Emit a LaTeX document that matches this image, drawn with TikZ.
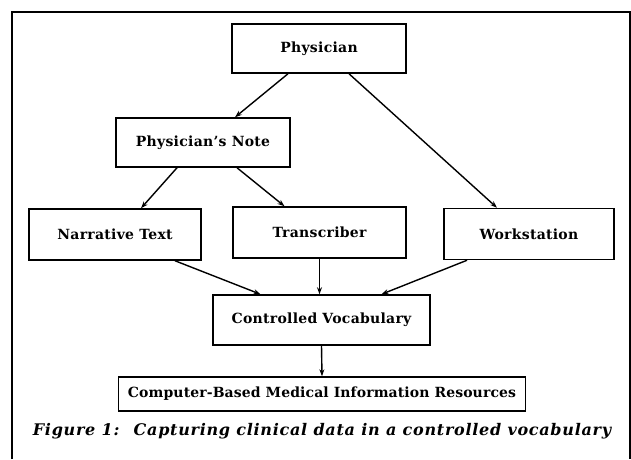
\documentclass[tikz,border=0pt]{standalone}
\usepackage{fontspec}
\setmainfont{DejaVu Serif}
\usetikzlibrary{arrows.meta}

\tikzset{
  box/.style={draw, line width=1.5pt, inner sep=0pt, align=center,
              font=\fontsize{14}{16}\selectfont\bfseries\addfontfeature{LetterSpace=2}},
  arr/.style={line width=1.4pt, -{Stealth[length=7pt,width=5pt]}},
  frame/.style={line width=1.4pt},
  captext/.style={font=\fontsize{16}{19}\selectfont\bfseries\itshape\addfontfeature{LetterSpace=4.5}}
}

\begin{document}
\begin{tikzpicture}[x=1pt,y=-1pt]
  \useasboundingbox (0,0) rectangle (631,459);

  % open frame around the figure
  \draw[frame] (12,459) -- (12,12) -- (630,12) -- (630,459);

  % boxes
  \node[box, minimum width=174pt, minimum height=49pt] (phys)  at (319,48.5)  {Physician};
  \node[box, minimum width=174pt, minimum height=49pt] (note)  at (203,142.5) {Physician's Note};
  \node[box, minimum width=172pt, minimum height=51pt] (narr)  at (115,234.5) {Narrative Text};
  \node[box, minimum width=173pt, minimum height=51pt] (trans) at (319.5,232.5) {Transcriber};
  \node[box, minimum width=170pt, minimum height=51pt] (work)  at (529,234) {Workstation};
  \node[box, minimum width=217pt, minimum height=50pt] (cv)    at (321.5,320) {Controlled Vocabulary};
  \node[box, minimum width=407pt, minimum height=34pt,
        font=\fontsize{14}{16}\selectfont\bfseries\addfontfeature{LetterSpace=0.8}]
        (res) at (322,394) {Computer-Based Medical Information Resources};

  % caption
  \node[captext] (cap) at (322,431)
    {Figure 1:\enspace\ Capturing clinical data in a controlled vocabulary};

  % connectors
  \draw[arr] ([xshift=-31pt]phys.south) -- ([xshift=32pt]note.north);
  \draw[arr] ([xshift=30pt]phys.south)  -- ([xshift=-32pt]work.north);
  \draw[arr] ([xshift=-26pt]note.south) -- ([xshift=26pt]narr.north);
  \draw[arr] ([xshift=34pt]note.south)  -- ([xshift=-35pt]trans.north);
  \draw[arr] ([xshift=60pt]narr.south)  -- ([xshift=-61pt]cv.north);
  \draw[arr] (trans.south) -- (trans.south |- cv.north);
  \draw[arr] ([xshift=-62pt]work.south) -- ([xshift=60pt]cv.north);
  \draw[arr] (cv.south) -- (res.north);
\end{tikzpicture}
\end{document}
